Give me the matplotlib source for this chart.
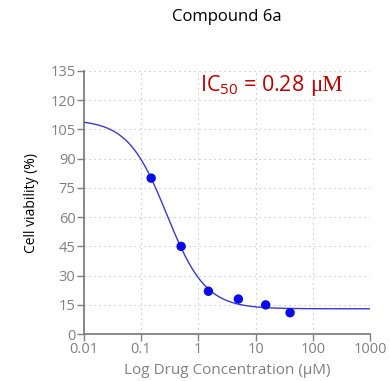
import numpy as np
import matplotlib
matplotlib.use("Agg")
import matplotlib.pyplot as plt
from matplotlib.transforms import offset_copy

plt.rcParams['font.family'] = ['Open Sans', 'DejaVu Sans']
plt.rcParams['mathtext.fontset'] = 'custom'
plt.rcParams['mathtext.rm'] = 'Open Sans'

# Measured viability
conc = [0.15, 0.5, 1.5, 5, 15, 40]
viability = [80, 45, 22, 18, 15, 11]

# Four-parameter logistic fit
top, bottom, ic50, hill = 110.0, 13.0, 0.28, 1.28

yticks = [0, 15, 30, 45, 60, 75, 90, 105, 120, 135]
xticks = [0.01, 0.1, 1, 10, 100, 1000]
xticklabels = ['0.01', '0.1', '1', '10', '100', '1000']

gray = '#808080'

fig = plt.figure(figsize=(3.9, 3.81), dpi=100)
ax = fig.add_axes([0.215, 0.123, 0.734, 0.691])

xs = np.logspace(-2, 3, 400)
ys = bottom + (top - bottom) / (1 + (xs / ic50) ** hill)
ax.plot(xs, ys, color='#3a3ac8', lw=1.0, zorder=3)
ax.scatter(conc, viability, s=46, color='#0a0aeb', zorder=4, edgecolors='none')

ax.set_xscale('log')
ax.set_xlim(0.01, 1000)
ax.set_ylim(0, 135)
ax.set_xticks(xticks)
ax.set_xticklabels(xticklabels)
ax.minorticks_off()
ax.set_yticks(yticks)

ax.grid(True, linestyle=(0, (1, 3.5)), color='#b8b8b8', lw=0.8)
for s in ['top', 'right']:
    ax.spines[s].set_visible(False)
for s in ['left', 'bottom']:
    ax.spines[s].set_color(gray)
    ax.spines[s].set_linewidth(1.3)
ax.tick_params(direction='out', length=5, width=1, color=gray,
               labelcolor=gray, labelsize=10.5, pad=1)

ax.set_xlabel('Log Drug Concentration (μM)', color=gray, fontsize=11, labelpad=4)
ax.set_ylabel('Cell viability (%)', color='black', fontsize=10, labelpad=8)
fig.text(0.582, 0.955, 'Compound 6a', ha='center', va='center', fontsize=12, color='black')

# IC50 annotation: sans label followed by a serif unit
red = '#c00000'
t1 = ax.text(0.405, 0.922, r'IC$_{50}$ = 0.28', transform=ax.transAxes,
             ha='left', va='baseline', fontsize=15.5, color=red)
fig.canvas.draw()
w = t1.get_window_extent().width
ax.text(0.405, 0.922, 'μM', ha='left', va='baseline', fontsize=16.5, color=red,
        family=['Liberation Serif', 'DejaVu Serif'],
        transform=offset_copy(ax.transAxes, fig=fig, x=w + 6, y=0, units='dots'))

fig.savefig('out.png', dpi=100)
